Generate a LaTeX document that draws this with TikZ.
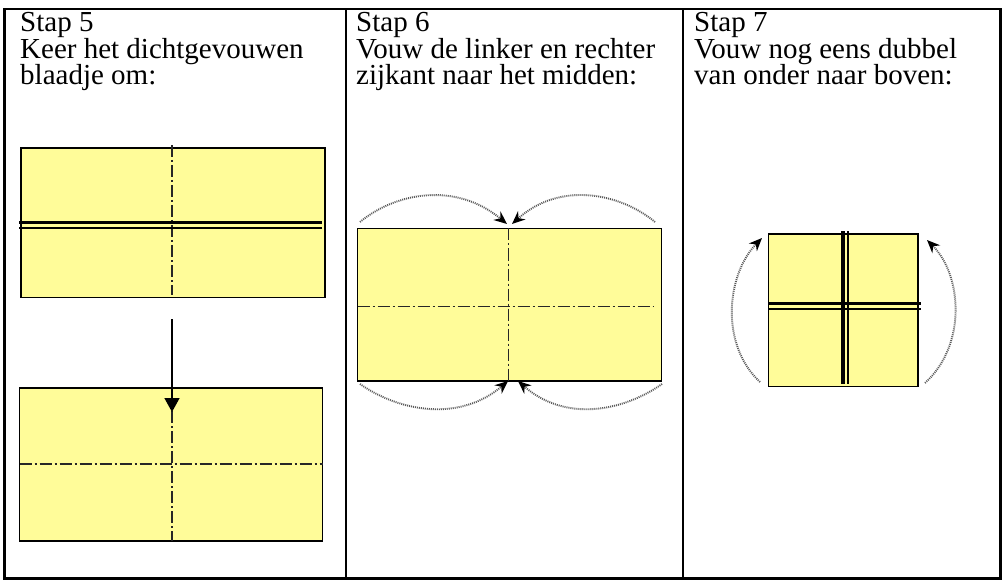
\documentclass[tikz,border=0pt]{standalone}
\usepackage{fontspec}
\setmainfont{Liberation Serif}
\usetikzlibrary{arrows.meta}
\definecolor{paper}{RGB}{255,252,153}
\definecolor{dotgray}{RGB}{90,90,90}
\tikzset{
  tableline/.style={line width=2.2pt, black},
  sheet/.style={fill=paper, draw=black, line width=1.4pt},
  crease/.style={line width=1.9pt, black!85, dash pattern=on 12pt off 3pt on 2pt off 3pt},
  thickfold/.style={line width=3.5pt, black},
  thinfold/.style={line width=1.3pt, black},
  foldarrow/.style={line width=1.9pt, dotgray, dash pattern=on 1pt off 1pt, -{Stealth[length=13pt,width=11pt,color=black]}},
  turnarrow/.style={line width=1.5pt, black, -{Triangle[length=14pt,width=15pt]}},
  steptext/.style={anchor=base west, inner sep=0pt, font=\fontsize{29}{26.5}\selectfont}
}
\begin{document}
\begin{tikzpicture}[x=1pt,y=-1pt]
\useasboundingbox (0,0) rectangle (1004,580);
% table
\draw[tableline] (4.5,9) rectangle (1000.5,578.5);
\draw[tableline] (346,9) -- (346,578.5);
\draw[tableline] (683,9) -- (683,578.5);
% texts
\node[steptext] (t5a) at (20,32) {Stap 5};
\node[steptext] (t5b) at (20,58.5) {Keer het dichtgevouwen};
\node[steptext] (t5c) at (20,85) {blaadje om:};
\node[steptext] (t6a) at (356,32) {Stap 6};
\node[steptext] (t6b) at (356,58.5) {Vouw de linker en rechter};
\node[steptext] (t6c) at (356,85) {zijkant naar het midden:};
\node[steptext] (t7a) at (694,32) {Stap 7};
\node[steptext] (t7b) at (694,58.5) {Vouw nog eens dubbel};
\node[steptext] (t7c) at (694,85) {van onder naar boven:};
% step 5 top sheet
\draw[sheet] (21,148) rectangle (325,297.5);
\draw[crease] (172,145) -- (172,295);
\draw[thickfold] (19,222.5) -- (322,222.5);
\draw[thinfold] (19,228) -- (322,228);
% step 5 bottom sheet
\draw[sheet] (19.5,388) rectangle (322.5,541);
\draw[crease] (19.5,464) -- (322.5,464);
\draw[crease] (172,411) -- (172,541);
\coordinate (a5s) at (172,319);
\coordinate (a5e) at (172,412);
\draw[turnarrow] (a5s) -- (a5e);
% step 6 sheet
\draw[sheet] (357.5,228.5) rectangle (661.5,381);
\draw[crease] (508.5,228.5) -- (508.5,381);
\draw[crease] (357.5,306.5) -- (653,306.5);
\coordinate (p1) at (360,222);
\coordinate (q1) at (507,224);
\coordinate (p2) at (655,222);
\coordinate (q2) at (512,224);
\coordinate (p3) at (360,384);
\coordinate (q3) at (508,381);
\coordinate (p4) at (662,384);
\coordinate (q4) at (518,381);
\draw[foldarrow] (p1) .. controls (395,193) and (455,181) .. (q1);
\draw[foldarrow] (p2) .. controls (620,193) and (560,181) .. (q2);
\draw[foldarrow] (p3) .. controls (400,412) and (460,422) .. (q3);
\draw[foldarrow] (p4) .. controls (622,412) and (565,422) .. (q4);
% step 7 sheet
\draw[sheet] (768.5,234) rectangle (918,386.5);
\draw[thickfold] (843,231.5) -- (843,384);
\draw[thinfold] (848,231.5) -- (848,384);
\draw[thickfold] (768.5,303.5) -- (921,303.5);
\draw[thinfold] (768.5,309) -- (921,309);
\coordinate (r1) at (760,382);
\coordinate (s1) at (762,238);
\coordinate (r2) at (925,383);
\coordinate (s2) at (927,240);
\draw[foldarrow] (r1) .. controls (720,345) and (726,275) .. (s1);
\draw[foldarrow] (r2) .. controls (967,345) and (962,275) .. (s2);
\end{tikzpicture}
\end{document}
